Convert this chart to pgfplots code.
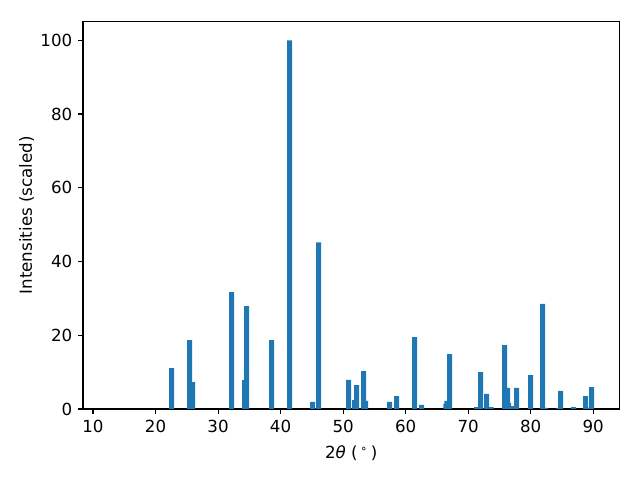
\documentclass[border=0pt]{standalone}
\usepackage{fontspec}
\setmainfont{DejaVu Sans}
\usepackage{pgfplots}
\pgfplotsset{compat=1.18}
\definecolor{mplblue}{HTML}{1F77B4}
\begin{document}
\fontsize{12}{14}\selectfont
\begin{tikzpicture}
\useasboundingbox (-59.76pt,-51.12pt) rectangle (401.06pt,294.48pt);
\begin{axis}[
  at={(0pt,0pt)}, anchor=south west,
  scale only axis,
  width=386.3pt, height=279pt,
  xmin=8.4, xmax=94.2,
  ymin=0, ymax=105.1,
  xtick={10,20,...,90},
  ytick={0,20,...,100},
  tick align=outside,
  tick pos=left,
  major tick length=3.5pt,
  every tick/.style={black, line width=0.8pt},
  axis line style={line width=0.8pt},
  /pgf/number format/assume math mode=true,
  tick label style={font=\fontsize{12}{14}\selectfont},
  label style={font=\fontsize{12}{14}\selectfont},
  xlabel={2\textit{θ} (\,\textsuperscript{∘}\,)},
  ylabel={Intensities (scaled)},
  xlabel style={yshift=-1.5pt},
  ylabel style={yshift=-3.5pt},
  ybar, bar width=0.8, bar shift=0pt,
  clip=true,
]
\addplot[fill=mplblue, draw=none] coordinates {
(22.56,11.1)
(25.92,7.3)
(25.44,18.7)
(32.16,31.7)
(34.24,7.9)
(34.56,27.9)
(38.56,18.7)
(41.44,100)
(45.12,1.9)
(46.08,45.2)
(50.88,7.9)
(51.84,2.4)
(52.16,6.5)
(53.6,2.2)
(53.28,10.3)
(57.44,1.9)
(58.56,3.5)
(61.44,19.5)
(62.56,1.1)
(66.44,1.4)
(66.6,2.2)
(67.04,14.9)
(71.36,0.5)
(72.0,10.0)
(73.68,0.5)
(72.96,4.1)
(76.48,1.6)
(76.32,5.7)
(75.84,17.3)
(77.28,0.8)
(77.76,5.7)
(80.0,9.2)
(82.4,0.3)
(81.92,28.5)
(84.5,0.3)
(84.8,4.9)
(86.88,0.5)
(89.3,0.4)
(88.8,3.5)
(89.76,5.9)
};
\end{axis}
\end{tikzpicture}
\end{document}
